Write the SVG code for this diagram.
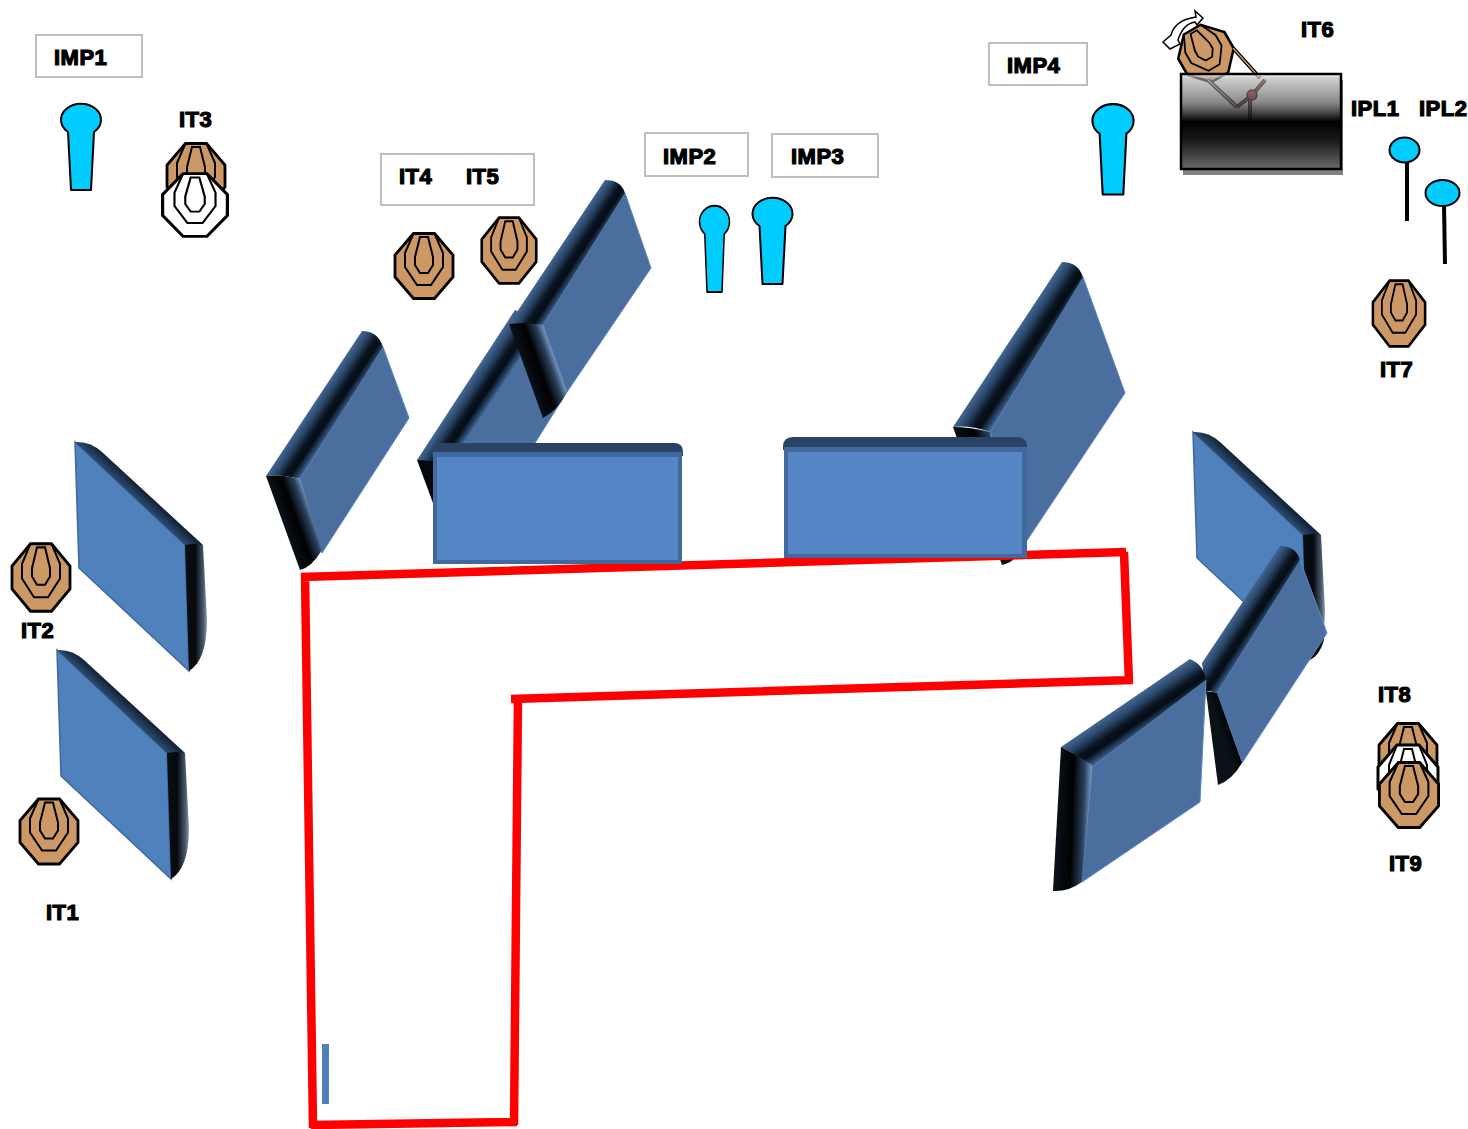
<svg xmlns="http://www.w3.org/2000/svg" xmlns:xlink="http://www.w3.org/1999/xlink" width="1468" height="1129" viewBox="0 0 1468 1129">
<style>
text{font-family:"Liberation Sans",Arial,sans-serif;font-weight:700;font-size:22px;letter-spacing:.5px;fill:#000;stroke:#000;stroke-width:1.2px}
.box{fill:#fff;stroke:#bfbfbf;stroke-width:2}
.imp{fill:#00ccff;stroke:#000;stroke-width:2;stroke-linejoin:round}
.face{fill:#4a6f9f;stroke:#5a88c2;stroke-width:1}
.flat{fill:#4f81bd;stroke:#41689a;stroke-width:1.5}
.red{stroke:#ff0000;stroke-width:8.500;fill:none}
.t1{fill:#cc9966;stroke:#000;stroke-width:2.800;stroke-linejoin:miter}
.t2{fill:none;stroke:#000;stroke-width:2}
.w1{fill:#fff;stroke:#000;stroke-width:3}
</style>
<defs>
<linearGradient id="band"><stop offset="0" stop-color="#426693"/><stop offset=".25" stop-color="#2a4668"/><stop offset=".5" stop-color="#0a1420"/><stop offset=".68" stop-color="#050c14"/><stop offset=".88" stop-color="#2a4668"/><stop offset="1" stop-color="#4a6f9f"/></linearGradient>
<linearGradient id="end"><stop offset="0" stop-color="#0a1118"/><stop offset=".45" stop-color="#000"/><stop offset=".8" stop-color="#2a405c"/><stop offset="1" stop-color="#6c8cb4"/></linearGradient>
<linearGradient id="bandB1" xlink:href="#band" gradientUnits="userSpaceOnUse" x1="266" y1="476" x2="291" y2="492.6"/>
<linearGradient id="endB1" xlink:href="#end" gradientUnits="userSpaceOnUse" x1="266" y1="476" x2="295" y2="465.5"/>
<linearGradient id="bandB2" xlink:href="#band" gradientUnits="userSpaceOnUse" x1="509" y1="324" x2="534" y2="340.6"/>
<linearGradient id="endB2" xlink:href="#end" gradientUnits="userSpaceOnUse" x1="509" y1="324" x2="538" y2="313.5"/>
<linearGradient id="bandB3" xlink:href="#band" gradientUnits="userSpaceOnUse" x1="417" y1="460" x2="442" y2="476.6"/>
<linearGradient id="bandB4" xlink:href="#band" gradientUnits="userSpaceOnUse" x1="953" y1="427" x2="981" y2="445.5"/>
<linearGradient id="endB4" xlink:href="#end" gradientUnits="userSpaceOnUse" x1="953" y1="427" x2="990" y2="414"/>
<linearGradient id="bandR2" xlink:href="#band" gradientUnits="userSpaceOnUse" x1="1202" y1="663" x2="1227" y2="679.6"/>
<linearGradient id="endR2" xlink:href="#end" gradientUnits="userSpaceOnUse" x1="1206" y1="692" x2="1235" y2="681.5"/>
<linearGradient id="bandR3" xlink:href="#band" gradientUnits="userSpaceOnUse" x1="1061" y1="747" x2="1080" y2="775"/>
<linearGradient id="endR3" xlink:href="#end" gradientUnits="userSpaceOnUse" x1="1058" y1="800" x2="1090" y2="801"/>
<linearGradient id="bandL" gradientUnits="userSpaceOnUse" x1="146" y1="490" x2="132" y2="505"><stop offset="0" stop-color="#0c1a2a"/><stop offset=".7" stop-color="#2e4e75"/><stop offset="1" stop-color="#41689a"/></linearGradient>
<linearGradient id="endL" gradientUnits="userSpaceOnUse" x1="185" y1="600" x2="208" y2="600"><stop offset="0" stop-color="#0a0f14"/><stop offset=".45" stop-color="#06090d"/><stop offset=".8" stop-color="#4a5a6e"/><stop offset="1" stop-color="#a4b0c0"/></linearGradient>
<linearGradient id="panelGrad" x1="0" y1="0" x2="0" y2="1"><stop offset="0" stop-color="#fff" stop-opacity=".8"/><stop offset=".05" stop-color="#aaa" stop-opacity=".6"/><stop offset=".3" stop-color="#555" stop-opacity=".7"/><stop offset=".5" stop-color="#000"/><stop offset=".7" stop-color="#1a1a1a"/><stop offset="1" stop-color="#6a6a6a"/></linearGradient>
<g id="target"><path class="t1" d="M-10.500-32.500H10.500L29-11V11L10.500 32.500H-10.500L-29 11V-11Z"/><path class="t2" d="M-10.500-32.500L-19-13V1L-7 19H7L19 1V-13L10.500-32.500M-4-29H4L9-9V-1L4 7H-4L-9-1V-9Z"/></g>
<g id="whiteTarget"><path class="w1" d="M-11-33H11L30-11V11L11 33H-11L-30 11V-11Z"/><path class="t2" d="M-11-33L-19-13V1L-7 19H7L19 1V-13L11-33M-4-29H4L9-9V-1L4 7H-4L-9-1V-9Z"/></g>
<path id="imp" d="M-13 13A20 16 0 1 1 13 13L10 71H-10Z"/>
<g id="leftBoard"><path class="flat" d="M75 442L185 545L189 671L79 568Z"/><path fill="url(#bandL)" d="M75 442Q90 441 102 452L203 545H185Z"/><path fill="url(#endL)" d="M185 545Q195 543 203 545L207 620Q207 660 189 671Z"/></g>
</defs>

<g id="board-l1"><use href="#leftBoard"/></g>
<g id="board-l2"><use href="#leftBoard" transform="translate(-18 208)"/></g>

<g id="board-b1">
<path class="face" d="M383 347L409 418L322 553L300 479Z"/>
<path fill="url(#bandB1)" d="M266 476L362 331Q378 331 383 347L300 479Q282 474 266 476Z"/>
<path fill="url(#endB1)" d="M266 476Q282 474 300 479L322 550Q312 567 300 570Z"/>
</g>
<g id="board-b3">
<path class="face" d="M442 476L543 325L567 392L535 443L500 500Z"/>
<path fill="url(#bandB3)" d="M417 460L515 310L545 325L445 476Z"/>
<path fill="#05090e" d="M417 460L445 462L445 510L433 503Z"/>
</g>
<g id="board-b2">
<path class="face" d="M625 193L651 268L567 392L543 325Z"/>
<path fill="url(#bandB2)" d="M509 324L605 180Q621 180 625 193L543 325Q526 322 509 324Z"/>
<path fill="url(#endB2)" d="M509 324Q526 322 543 325L567 392Q558 410 543 418Z"/>
</g>
<g id="board-b4">
<path class="face" d="M1083 277L1125 393L1024 545L990 432Z"/>
<path fill="url(#bandB4)" d="M953 427L1062 262Q1078 262 1083 277L990 432Q970 425 953 427Z"/>
<path fill="url(#endB4)" d="M953 427Q970 427 990 432L1013 560Q1008 564 1002 565Z"/>
</g>

<g id="route">
<path class="red" d="M301 577L1126 552M1124 552L1129 683M1133 680L511 699M518 696L514 1125M517 1122L311 1125M305 573L313 1128"/>
<rect x="322" y="1044" width="7" height="60" fill="#4f81bd"/>
</g>

<g id="panel-1">
<path fill="#2a4365" d="M432 452Q432 443 441 443H674Q683 443 683 452V456H432Z"/>
<rect x="433" y="452" width="249" height="112" fill="#41699c"/>
<rect x="437" y="457" width="241" height="103" fill="#5585c5"/>
</g>
<g id="panel-2">
<path fill="#2a4365" d="M783 447Q783 437 793 437H1017Q1027 437 1027 447V450H783Z"/>
<rect x="784" y="447" width="243" height="111" fill="#41699c"/>
<rect x="788" y="452" width="234" height="102" fill="#5585c5"/>
</g>

<g id="board-r1"><use href="#leftBoard" transform="translate(1118 -10)"/><path fill="#0a0f14" d="M1322 620L1324 640Q1320 655 1310 660L1300 640Z"/></g>
<g id="board-r2">
<path class="face" d="M1300 560L1327 633L1242 763L1217 693Z"/>
<path fill="url(#bandR2)" d="M1202 663L1280 546Q1296 546 1300 560L1217 693Q1210 690 1206 692Z"/>
<path fill="url(#endR2)" d="M1206 692Q1212 691 1217 693L1242 763Q1232 780 1218 785Z"/>
</g>
<g id="board-r3">
<path class="face" d="M1092 767L1206 680L1200 802L1082 882Z"/>
<path fill="url(#bandR3)" d="M1061 747L1190 659Q1204 665 1206 680L1092 767Q1078 755 1061 747Z"/>
<path fill="url(#endR3)" d="M1061 747Q1078 755 1092 765L1082 882Q1068 892 1053 891Z"/>
</g>

<g id="imp1"><rect class="box" x="36" y="35" width="106" height="42"/><text x="54" y="65">IMP1</text><use class="imp" href="#imp" transform="translate(81 119)"/></g>
<g id="imp2"><rect class="box" x="645" y="133" width="103" height="43"/><text x="663" y="164">IMP2</text><use class="imp" href="#imp" transform="translate(714.500 221) scale(.75 1)"/></g>
<g id="imp3"><rect class="box" x="772" y="134" width="106" height="43"/><text x="791" y="164">IMP3</text><use class="imp" href="#imp" transform="translate(772.500 213)"/></g>
<g id="imp4"><rect class="box" x="989" y="43" width="98" height="42"/><text x="1007" y="73">IMP4</text><use class="imp" href="#imp" transform="translate(1113 120) scale(1.03 1.05)"/></g>

<g id="it1"><use href="#target" transform="translate(49 831.500)"/><text x="46" y="920">IT1</text></g>
<g id="it2"><use href="#target" transform="translate(41 577.500) scale(1 1.04)"/><text x="21" y="638">IT2</text></g>
<g id="it3"><use href="#target" transform="translate(196 176)"/><use href="#whiteTarget" transform="translate(195 205) scale(1.08 .95)"/><text x="179" y="127">IT3</text></g>
<g id="it4-it5"><rect class="box" x="381" y="154" width="153" height="51"/><text x="399" y="184">IT4</text><text x="466" y="184">IT5</text>
<g id="it4"><use href="#target" transform="translate(424 266)"/></g>
<g id="it5"><use href="#target" transform="translate(509 250.500) scale(.94 1.01)"/></g></g>
<g id="it6">
<path fill="#fff" stroke="#000" stroke-width="1.500" d="M1163 42L1171 35Q1175 20 1196 17L1195 11L1203 18L1197 25L1195 22Q1183 24 1178 40L1180 44L1170 49Z"/>
<use href="#target" transform="translate(1206 53.500) rotate(-30) scale(.92 .85)"/>
<path fill="none" stroke="#000" stroke-width="4" d="M1233 48L1260 78M1208 80L1237 107"/>
<path fill="none" stroke="#cc9966" stroke-width="1.500" d="M1233 48L1260 78M1208 80L1237 107"/>
<path fill="none" stroke="#000" stroke-width="4" d="M1237 107L1252 95L1265 80M1250 95L1250 120"/>
<path fill="none" stroke="#b0202a" stroke-width="1.500" d="M1237 107L1252 95L1265 80M1250 95L1250 120"/>
<circle cx="1252" cy="95" r="5" fill="#b0202a" stroke="#000" stroke-width="1.500"/>
<path fill="#808080" d="M1183 170H1343V80H1341V170H1183V175H1343V170Z"/>
<rect x="1181" y="74" width="160" height="95" fill="url(#panelGrad)" stroke="#000" stroke-width="2.500"/>
<text x="1301" y="37">IT6</text>
</g>
<g id="ipl1"><text x="1351" y="116">IPL1</text><path stroke="#000" stroke-width="4" d="M1407 162V221"/><ellipse class="imp" cx="1404.500" cy="150" rx="15" ry="12.500"/></g>
<g id="ipl2"><text x="1419" y="116">IPL2</text><path stroke="#000" stroke-width="4" d="M1444 205L1445 264"/><ellipse class="imp" cx="1442.500" cy="193" rx="17" ry="13"/></g>
<g id="it7"><use href="#target" transform="translate(1399 313.500) scale(.9 1.01)"/><text x="1380" y="377">IT7</text></g>
<g id="it8"><use href="#target" transform="translate(1408 756)"/><use href="#whiteTarget" transform="translate(1408 778)"/><text x="1378" y="702">IT8</text></g>
<g id="it9"><use href="#target" transform="translate(1409 795) scale(1.02 1)"/><text x="1389" y="871">IT9</text></g>
</svg>
